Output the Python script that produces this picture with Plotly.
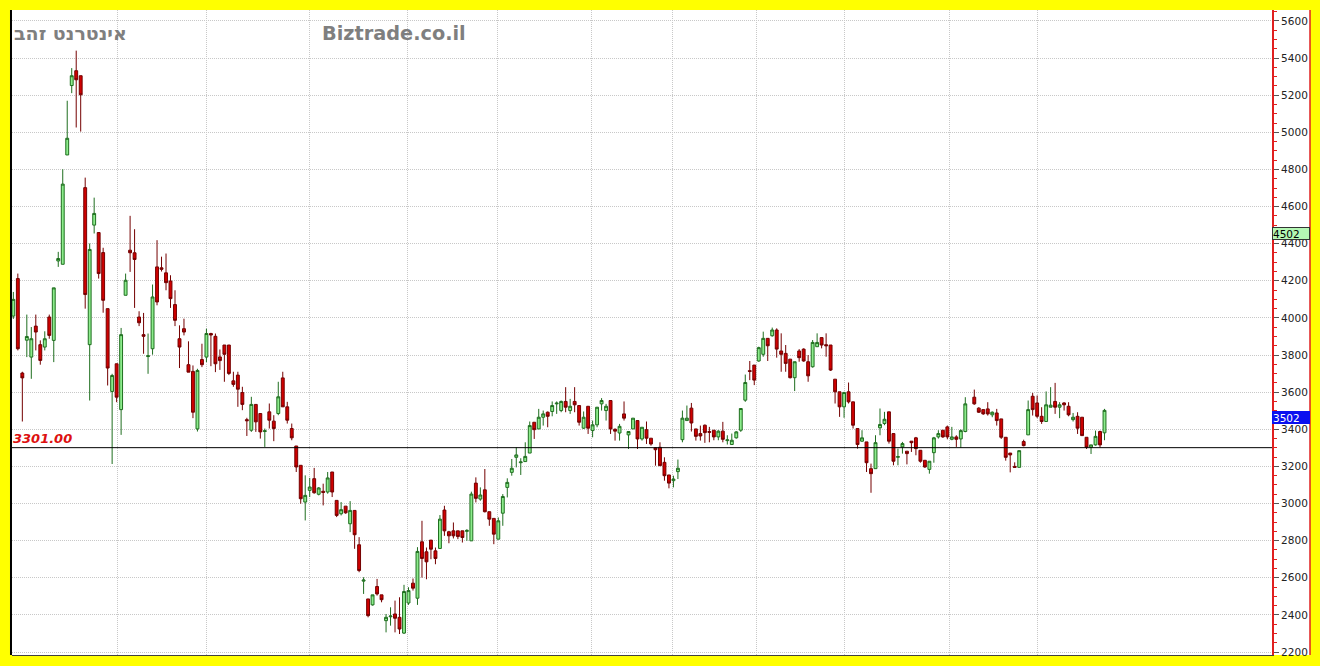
import plotly.graph_objects as go

# ---- data ----
opens = [4010,4212,3703,3880,3789,3956,3856,3843,4005,3879,4307,4289,4878,5252,5332,5305,4702,3856,4500,4460,
         4352,4050,3604,3753,3506,4122,4365,4351,4005,3910,3792,3834,4275,4270,4243,4199,4072,3888,3942,3748,
         3712,3402,3776,3789,3916,3901,3790,3854,3854,3661,3692,3598,3452,3395,3534,3485,3388,3494,3444,3485,
         3677,3521,3404,3310,3206,3008,3071,3134,3050,3066,3062,3170,3017,2945,2986,2891,2963,2778,2582,2486,
         2454,2553,2508,2369,2390,2405,2387,2302,2464,2571,2490,2794,2740,2803,2745,2758,2965,2848,2853,2853,
         2853,2850,2799,3110,3024,3074,2956,2920,2808,2948,3087,3168,3249,3220,3226,3272,3438,3402,3465,3492,
         3496,3537,3501,3550,3501,3550,3528,3406,3524,3393,3424,3537,3501,3555,3400,3380,3483,3370,3402,3447,
         3348,3398,3352,3300,3303,3222,3154,3123,3172,3344,3447,3514,3402,3377,3422,3388,3395,3359,3390,3339,
         3318,3354,3395,3557,3716,3746,3768,3804,3890,3904,3935,3822,3809,3778,3678,3822,3832,3764,3737,3845,
         3894,3856,3854,3670,3602,3521,3602,3548,3404,3336,3332,3188,3188,3408,3431,3494,3377,3249,3305,3282,
         3336,3354,3287,3233,3184,3274,3359,3395,3413,3346,3359,3348,3388,3573,3514,3506,3510,3478,3488,3456,
         3357,3272,3200,3195,3334,3370,3578,3542,3470,3442,3519,3550,3519,3542,3524,3452,3470,3465,3357,3303,
         3316,3388,3381]
highs = [4140,4239,3710,4018,3951,4018,3879,3928,4018,4162,4356,4801,5170,5346,5440,5305,4756,4401,4648,4460,
         4378,4050,3699,3753,3946,4239,4550,4478,4036,4027,3916,4180,4419,4330,4347,4230,4149,3960,3996,3874,
         3744,3726,3861,3942,3920,3916,3830,3854,3854,3710,3710,3629,3462,3575,3534,3485,3404,3539,3476,3656,
         3710,3548,3431,3310,3206,3152,3138,3192,3089,3107,3170,3170,3017,3008,2986,3013,2963,2819,2603,2486,
         2508,2594,2508,2405,2441,2477,2495,2562,2549,2596,2765,2907,2763,2803,2763,2938,2988,2853,2898,2853,
         2853,2862,3064,3141,3087,3186,2956,2920,2925,3051,3136,3240,3303,3244,3330,3442,3438,3510,3501,3496,
         3550,3550,3555,3627,3564,3627,3528,3496,3524,3447,3519,3568,3537,3555,3405,3429,3550,3388,3460,3447,
         3411,3442,3352,3303,3330,3249,3154,3150,3237,3501,3528,3542,3402,3420,3426,3413,3395,3395,3440,3368,
         3377,3390,3512,3695,3768,3746,3845,3926,3890,3948,3944,3917,3854,3778,3764,3832,3836,3800,3881,3917,
         3894,3917,3854,3670,3602,3602,3652,3548,3404,3395,3332,3215,3368,3512,3494,3494,3377,3296,3332,3282,
         3336,3359,3287,3233,3228,3359,3395,3395,3420,3413,3368,3400,3573,3614,3519,3506,3546,3496,3510,3456,
         3357,3272,3222,3285,3344,3555,3596,3582,3519,3604,3627,3650,3546,3546,3546,3488,3492,3465,3357,3316,
         3393,3393,3510]
lows = [3995,3825,3442,3789,3672,3825,3748,3825,3888,3762,4275,4289,4878,5211,5026,5004,4050,3555,4455,4212,
        4028,3636,3213,3546,3370,4122,4248,4054,3956,3807,3699,3802,4068,4250,4149,4054,3956,3730,3906,3708,
        3460,3388,3735,3762,3740,3708,3720,3656,3692,3629,3521,3503,3364,3386,3386,3350,3305,3404,3336,3476,
        3521,3431,3341,3170,2999,2909,3035,3053,3044,2990,3053,3035,2927,2936,2945,2846,2756,2630,2513,2387,
        2450,2504,2468,2306,2342,2306,2297,2297,2454,2531,2454,2601,2592,2700,2673,2758,2826,2786,2812,2808,
        2790,2799,2799,3006,3015,2952,2880,2781,2808,2880,3033,3150,3195,3154,3226,3272,3348,3402,3420,3411,
        3470,3483,3492,3492,3483,3492,3420,3402,3375,3357,3411,3501,3447,3375,3339,3339,3447,3294,3402,3294,
        3339,3321,3312,3204,3204,3123,3082,3087,3132,3330,3447,3388,3339,3339,3327,3330,3341,3341,3330,3318,
        3318,3350,3386,3548,3665,3638,3764,3791,3768,3899,3786,3710,3710,3674,3606,3764,3764,3656,3732,3845,
        3836,3791,3714,3539,3467,3462,3539,3404,3296,3332,3170,3058,3188,3368,3422,3323,3206,3206,3269,3211,
        3278,3260,3220,3192,3161,3220,3350,3354,3346,3341,3305,3300,3384,3532,3488,3478,3474,3465,3420,3348,
        3231,3168,3195,3195,3308,3370,3474,3460,3429,3442,3519,3483,3460,3501,3470,3442,3375,3366,3294,3267,
        3312,3303,3341]
closes = [4100,3834,3677,3900,3888,3924,3771,3888,3906,4162,4320,4721,4968,5305,5283,5202,4126,4369,4563,4239,
          4095,3730,3690,3573,3910,4203,4351,4315,3974,3901,3796,4113,4086,4262,4190,4104,3987,3843,3924,3708,
          3492,3717,3748,3916,3908,3753,3770,3804,3701,3642,3616,3534,3446,3534,3440,3386,3392,3449,3404,3575,
          3521,3449,3354,3197,3026,3044,3089,3058,3084,3060,3138,3062,2936,2967,2950,2963,2832,2639,2588,2396,
          2508,2513,2482,2387,2394,2382,2324,2526,2531,2544,2742,2704,2686,2754,2704,2916,2853,2826,2826,2822,
          2817,2855,3051,3028,3046,2956,2916,2835,2907,3038,3114,3190,3262,3224,3254,3420,3398,3465,3483,3470,
          3528,3541,3550,3519,3524,3532,3438,3465,3406,3424,3519,3555,3524,3402,3390,3416,3460,3388,3460,3348,
          3411,3352,3321,3290,3204,3150,3110,3132,3190,3460,3460,3434,3362,3364,3382,3384,3359,3390,3346,3343,
          3341,3386,3512,3652,3712,3665,3840,3890,3850,3935,3832,3804,3755,3678,3764,3786,3768,3688,3868,3868,
          3854,3850,3719,3602,3521,3598,3548,3422,3318,3354,3220,3161,3328,3426,3454,3336,3228,3253,3323,3269,
          3328,3296,3228,3197,3228,3354,3377,3359,3359,3359,3346,3393,3537,3537,3492,3483,3483,3492,3447,3357,
          3249,3262,3195,3285,3312,3506,3506,3470,3442,3532,3530,3519,3532,3532,3478,3465,3406,3366,3303,3316,
          3362,3316,3502]

# trading-session numbers (one session missing after the 213th candle)
sessions = list(range(0, 213)) + list(range(214, 244))

month_lines = [23.1, 43.1, 65.9, 87.7, 107.9, 128.7, 146.9, 165.6, 185.2, 208.4, 228.0]
y_ticks = [2200, 2400, 2600, 2800, 3000, 3200, 3400, 3600, 3800, 4000, 4200, 4400, 4600, 4800, 5000, 5200, 5400, 5600]
ref_level = 3301.00
last_label = 3502
green_label = 4502
title_he = "אינטרנט זהב"
title_site = "Biztrade.co.il"

W, H = 1320, 666
ML, MR, MT, MB = 12, 48, 10, 11
PW = W - ML - MR
PH = H - MT - MB

fig = go.Figure()
fig.add_trace(go.Candlestick(
    x=sessions, open=opens, high=highs, low=lows, close=closes,
    increasing=dict(fillcolor="#8cec8c", line=dict(color="#1f6e1f", width=1)),
    decreasing=dict(fillcolor="#d00000", line=dict(color="#740000", width=1)),
    whiskerwidth=0, hoverinfo="skip", showlegend=False,
))

# reference horizontal line
fig.add_shape(type="line", xref="paper", yref="y", x0=0, x1=1, y0=ref_level, y1=ref_level,
              line=dict(color="black", width=1))
# white area behind the price axis
x_axis_end = (1310 - ML) / PW
fig.add_shape(type="rect", xref="paper", yref="paper", x0=1, x1=x_axis_end, y0=0, y1=1,
              fillcolor="white", line=dict(width=0), layer="below")
fig.add_shape(type="line", xref="paper", yref="paper", x0=x_axis_end, x1=x_axis_end, y0=0, y1=1,
              line=dict(color="#e02020", width=1.5))
# left black border
fig.add_shape(type="line", xref="paper", yref="paper", x0=-0.0008, x1=-0.0008, y0=0, y1=1,
              line=dict(color="black", width=2))

fig.add_annotation(xref="paper", yref="y", x=0, y=ref_level, xanchor="left", yanchor="bottom",
                   text="<b><i>3301.00</i></b>", showarrow=False, yshift=0, xshift=-1,
                   font=dict(family="DejaVu Sans", size=13, color="#dd1010"))
fig.add_annotation(xref="paper", yref="y", x=1, y=green_label, xanchor="left", yanchor="top",
                   text=str(green_label), showarrow=False, yshift=-2, width=36, height=11, align="left",
                   bgcolor="#b4f7b4", bordercolor="#333333", borderwidth=1, borderpad=0,
                   font=dict(family="DejaVu Sans", size=10.5, color="black"))
fig.add_annotation(xref="paper", yref="y", x=1, y=last_label, xanchor="left", yanchor="top",
                   text=str(last_label), showarrow=False, yshift=-1, width=36, height=11, align="left",
                   bgcolor="#0a10f0", bordercolor="#0a10f0", borderwidth=1, borderpad=0,
                   font=dict(family="DejaVu Sans", size=10.5, color="white"))

fig.add_annotation(xref="paper", yref="paper", x=(70.5 - ML) / PW, y=1 - (33 - MT) / PH,
                   xanchor="center", yanchor="middle", text="<b>" + title_he + "</b>", showarrow=False,
                   font=dict(family="DejaVu Sans", size=19, color="#7f7f7f"))
fig.add_annotation(xref="paper", yref="paper", x=(394.5 - ML) / PW, y=1 - (33 - MT) / PH,
                   xanchor="center", yanchor="middle", text="<b>" + title_site + "</b>", showarrow=False,
                   font=dict(family="DejaVu Sans", size=19.3, color="#7f7f7f"))

fig.update_layout(
    width=W, height=H,
    margin=dict(l=ML, r=MR, t=MT, b=MB, pad=0, autoexpand=False),
    paper_bgcolor="#ffff00", plot_bgcolor="white",
    showlegend=False,
    boxgap=0.2, boxgroupgap=0.2,
    xaxis=dict(range=[-0.3, 280.3], rangeslider=dict(visible=False),
               tickmode="array", tickvals=month_lines, showticklabels=False, ticks="",
               showgrid=True, gridcolor="#c8c8c8", griddash="1px,1px", gridwidth=1,
               showline=True, linecolor="#404040", linewidth=1, zeroline=False, fixedrange=True,
               automargin=False),
    yaxis=dict(range=[2184, 5659], side="right", tickmode="array", tickvals=y_ticks,
               ticks="outside", ticklen=5, tickcolor="#555555", tickwidth=1,
               showgrid=True, gridcolor="#c8c8c8", griddash="1px,1px", gridwidth=1,
               showline=True, linecolor="#e02020", linewidth=2, zeroline=False,
               tickfont=dict(family="DejaVu Sans", size=10.5, color="#222222"),
               minor=dict(dtick=50, tick0=2200, ticks="outside", ticklen=3, tickcolor="#e02020", showgrid=False),
               fixedrange=True, automargin=False),
)

fig.write_html("out.html", config={"displayModeBar": False},
               post_script="document.body.style.margin='0px';document.body.style.overflow='hidden';")
